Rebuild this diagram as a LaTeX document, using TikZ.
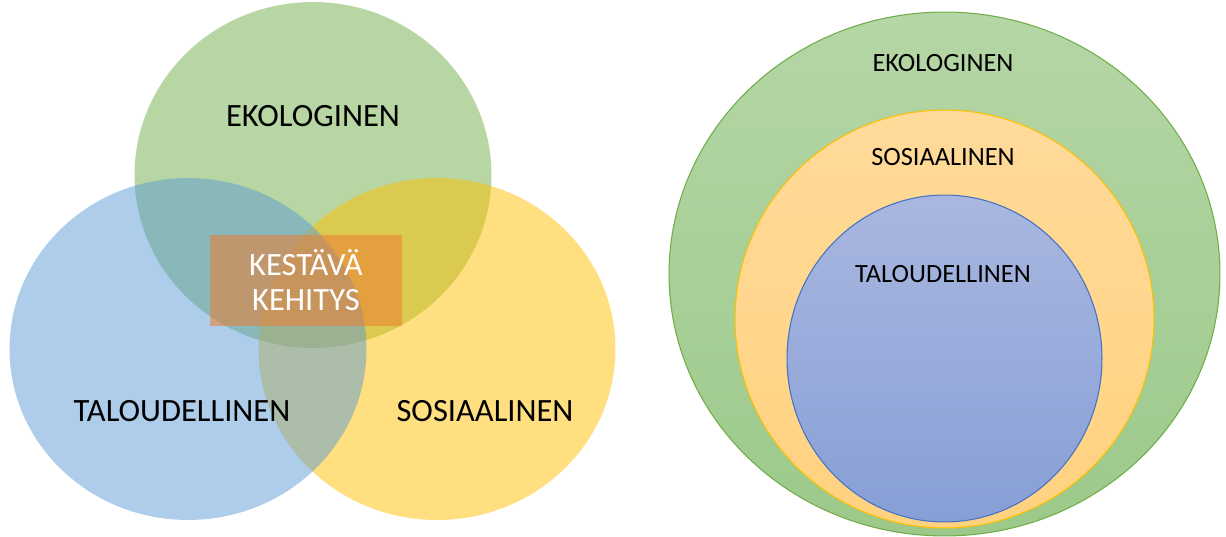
\documentclass[tikz,border=0pt]{standalone}
\usepackage{fontspec}
\setmainfont{Carlito}
\usetikzlibrary{shapes.geometric, positioning}
\definecolor{EkoGreen}{HTML}{70AD47}
\definecolor{TalBlue}{HTML}{5B9BD5}
\definecolor{SosYellow}{HTML}{FFC000}
\definecolor{KehOrange}{HTML}{ED7D31}
\definecolor{TalLine}{HTML}{4472C4}
\definecolor{EkoTop}{HTML}{B5D6A6}
\definecolor{EkoBot}{HTML}{9CC98A}
\definecolor{SosTop}{HTML}{FFDA99}
\definecolor{SosBot}{HTML}{FFD27F}
\definecolor{TalTop}{HTML}{A9B7E0}
\definecolor{TalBot}{HTML}{879FD6}

\begin{document}
\begin{tikzpicture}[x=0.02cm, y=-0.02cm,
        venn/.style={ellipse, draw=none, fill opacity=0.5, inner sep=0pt},
        bigtxt/.style={font=\fontsize{18.5}{22}\selectfont, text=black, align=center},
        smalltxt/.style={font=\fontsize{15}{18}\selectfont, text=black},
        ring/.style={ellipse, inner sep=0pt, line width=0.6pt}
    ]
    \useasboundingbox (0,0) rectangle (1226,537);

    % Venn-kaavio
    \node[venn, fill=EkoGreen, minimum width=7.14cm, minimum height=6.92cm] (eko) at (313,175) {};
    \node[venn, fill=SosYellow, minimum width=7.14cm, minimum height=6.84cm] (sos) at (437,349) {};
    \node[venn, fill=TalBlue, minimum width=7.14cm, minimum height=6.84cm] (tal) at (188,349) {};

    \node[bigtxt] (ekolbl) at (313,116) {EKOLOGINEN};
    \node[bigtxt] (tallbl) at (182,411) {TALOUDELLINEN};
    \node[bigtxt] (soslbl) at (485,411) {SOSIAALINEN};

    % Keskilaatikko
    \node[rectangle, fill=KehOrange, fill opacity=0.55, text opacity=1, text=white,
        minimum width=3.84cm, minimum height=1.82cm, inner sep=0pt,
        font=\fontsize{18.5}{20}\selectfont, align=center] (kestava) at (306,280.5) {KESTÄVÄ\\KEHITYS};

    % Sisäkkäiset ellipsit
    \node[ring, draw=EkoGreen, top color=EkoTop, bottom color=EkoBot,
        minimum width=11.02cm, minimum height=10.48cm] (ekoring) at (944.5,274) {};
    \node[ring, draw=SosYellow, top color=SosTop, bottom color=SosBot,
        minimum width=8.38cm, minimum height=8.36cm] (sosring) at (944.5,319) {};
    \node[ring, draw=TalLine, top color=TalTop, bottom color=TalBot,
        minimum width=6.3cm, minimum height=6.54cm] (talring) at (944.5,358.5) {};

    \node[smalltxt] (ekoin) at (943,63) {EKOLOGINEN};
    \node[smalltxt] (sosin) at (943,157) {SOSIAALINEN};
    \node[smalltxt] (talin) at (943,274) {TALOUDELLINEN};
\end{tikzpicture}
\end{document}
